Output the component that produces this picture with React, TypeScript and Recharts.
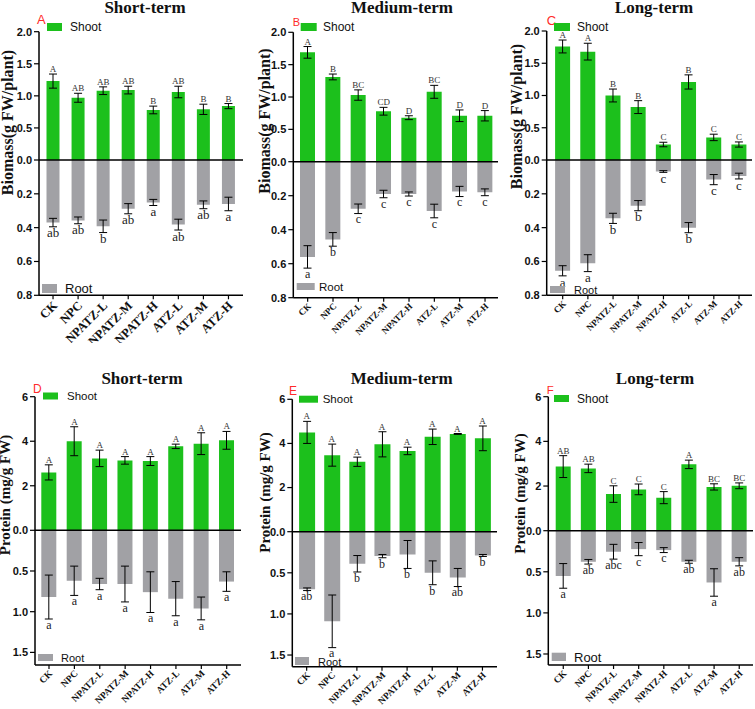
import React from "react";
import { ComposedChart, Bar, Line, XAxis, YAxis, ErrorBar, ReferenceLine } from "recharts";

const categories = ["CK", "NPC", "NPATZ-L", "NPATZ-M", "NPATZ-H", "ATZ-L", "ATZ-M", "ATZ-H"];

// A - biomass, short-term
const bioShortShoot = [1.23, 0.97, 1.08, 1.09, 0.78, 1.06, 0.79, 0.84];
const bioShortShootErr = [0.11, 0.07, 0.06, 0.06, 0.06, 0.09, 0.08, 0.04];
const bioShortShootSig = ["A", "AB", "AB", "AB", "B", "AB", "B", "B"];
const bioShortRoot = [0.37, 0.357, 0.392, 0.288, 0.251, 0.382, 0.265, 0.26];
const bioShortRootErr = [0.025, 0.02, 0.037, 0.03, 0.018, 0.032, 0.023, 0.04];
const bioShortRootSig = ["ab", "ab", "b", "ab", "a", "ab", "ab", "a"];

// B - biomass, medium-term
const bioMedShoot = [1.69, 1.31, 1.03, 0.78, 0.68, 1.08, 0.71, 0.71];
const bioMedShootErr = [0.09, 0.045, 0.08, 0.06, 0.03, 0.1, 0.09, 0.08];
const bioMedShootSig = ["A", "B", "BC", "CD", "D", "BC", "D", "D"];
const bioMedRoot = [0.56, 0.457, 0.277, 0.19, 0.19, 0.29, 0.175, 0.18];
const bioMedRootErr = [0.066, 0.04, 0.028, 0.022, 0.012, 0.04, 0.03, 0.02];
const bioMedRootSig = ["a", "b", "c", "c", "c", "c", "c", "c"];

// C - biomass, long-term
const bioLongShoot = [1.76, 1.68, 1.0, 0.82, 0.24, 1.21, 0.35, 0.24];
const bioLongShootErr = [0.1, 0.13, 0.1, 0.1, 0.035, 0.11, 0.05, 0.04];
const bioLongShootSig = ["A", "A", "B", "B", "C", "B", "C", "C"];
const bioLongRoot = [0.655, 0.61, 0.345, 0.27, 0.068, 0.4, 0.116, 0.095];
const bioLongRootErr = [0.03, 0.05, 0.03, 0.03, 0.005, 0.03, 0.03, 0.017];
const bioLongRootSig = ["a", "a", "b", "b", "c", "b", "c", "c"];

// D - protein, short-term
const protShortShoot = [2.6, 4.0, 3.23, 3.14, 3.11, 3.77, 3.89, 4.04];
const protShortShootErr = [0.34, 0.65, 0.37, 0.17, 0.2, 0.1, 0.49, 0.4];
const protShortShootSig = ["A", "A", "A", "A", "A", "A", "A", "A"];
const protShortRoot = [0.82, 0.62, 0.66, 0.66, 0.76, 0.84, 0.96, 0.63];
const protShortRootErr = [0.27, 0.18, 0.07, 0.22, 0.25, 0.21, 0.14, 0.12];
const protShortRootSig = ["a", "a", "a", "a", "a", "a", "a", "a"];

// E - protein, medium-term
const protMedShoot = [4.5, 3.47, 3.17, 3.96, 3.66, 4.3, 4.43, 4.23];
const protMedShootErr = [0.5, 0.5, 0.21, 0.57, 0.17, 0.35, 0.02, 0.56];
const protMedShootSig = ["A", "A", "A", "A", "A", "A", "A", "A"];
const protMedRoot = [0.7, 1.09, 0.39, 0.297, 0.277, 0.5, 0.557, 0.289];
const protMedRootErr = [0.016, 0.32, 0.1, 0.02, 0.17, 0.145, 0.11, 0.012];
const protMedRootSig = ["ab", "a", "b", "b", "b", "b", "ab", "b"];

// F - protein, long-term
const protLongShoot = [2.87, 2.79, 1.64, 1.85, 1.48, 2.97, 1.96, 2.01];
const protLongShootErr = [0.49, 0.19, 0.37, 0.24, 0.27, 0.19, 0.14, 0.13];
const protLongShootSig = ["AB", "AB", "C", "C", "C", "A", "BC", "BC"];
const protLongRoot = [0.55, 0.378, 0.256, 0.224, 0.236, 0.378, 0.63, 0.378];
const protLongRootErr = [0.15, 0.028, 0.09, 0.08, 0.03, 0.018, 0.167, 0.05];
const protLongRootSig = ["a", "ab", "abc", "c", "c", "ab", "a", "ab"];

const bioShootTicks = [0, 0.5, 1.0, 1.5, 2.0];
const bioRootTicks = [0.2, 0.4, 0.6, 0.8];
const protShootTicks = [0, 2, 4, 6];
const protRootTicks = [0.5, 1.0, 1.5];

const GREEN = "#1cc01c";
const GRAY = "#a1a1a5";
const SERIF = "'Liberation Serif', 'Times New Roman', serif";
const SANS = "'Liberation Sans', Arial, sans-serif";

type PanelCfg = {
  left: number; top: number; width: number; height: number;
  axisX: number; yTop: number; yZero: number; yBot: number; xRight: number;
  padL: number; padR: number; barSize: number; xFont: number; rootFont: number;
  topMax: number; botMax: number; shootTicks: number[]; rootTicks: number[]; protein: boolean;
  shoot: number[]; shootErr: number[]; shootSig: string[];
  root: number[]; rootErr: number[]; rootSig: string[];
};

function XTick(props: any) {
  const { x, y, payload, fontSize, dx, dy } = props;
  return (
    <g transform={`translate(${x + dx},${y + dy})`}>
      <text textAnchor="end" transform="rotate(-45)" fontFamily={SERIF} fontWeight="bold" fontSize={fontSize} fill="#111">
        {payload.value}
      </text>
    </g>
  );
}

function Panel(p: PanelCfg) {
  // root values share the axis with shoot values; s converts root units to shoot units
  const topPx = (p.yZero - p.yTop) / p.topMax;
  const botPx = (p.yBot - p.yZero) / p.botMax;
  const s = botPx / topPx;
  const data = categories.map((name, i) => ({
    name,
    shoot: p.shoot[i],
    shootErr: p.shootErr[i],
    shootTop: p.shoot[i] + p.shootErr[i],
    shootSig: p.shootSig[i],
    root: -p.root[i] * s,
    rootErr: p.rootErr[i] * s,
    rootBot: -(p.root[i] + p.rootErr[i]) * s,
    rootSig: p.rootSig[i],
  }));
  const ticks = [...p.rootTicks.map((v) => -v * s).reverse(), ...p.shootTicks];
  const fmt = (v: number) => {
    if (v < -1e-9) return (-v / s).toFixed(1);
    if (Math.abs(v) < 1e-9) return "0.0";
    return p.protein ? String(v) : v.toFixed(1);
  };
  const big = p.xFont > 11;
  return (
    <div style={{ position: "absolute", left: p.left, top: p.top, width: p.width, height: p.height, overflow: "hidden" }}>
      <ComposedChart
        width={p.width}
        height={p.height}
        data={data}
        barGap={-p.barSize}
        margin={{ top: p.yTop - p.top, right: p.left + p.width - p.xRight, bottom: 0, left: 0 }}
      >
        <XAxis
          dataKey="name"
          interval={0}
          height={p.top + p.height - p.yBot}
          padding={{ left: p.padL, right: p.padR }}
          axisLine={{ stroke: "#000", strokeWidth: 1.5 }}
          tickLine={{ stroke: "#000", strokeWidth: 1.2 }}
          tickSize={4}
          tickMargin={0}
          tick={<XTick fontSize={p.xFont} dx={big ? 5 : 4} dy={big ? 7 : 5} />}
        />
        <YAxis
          type="number"
          domain={[-p.botMax * s, p.topMax]}
          allowDataOverflow
          ticks={ticks}
          interval={0}
          width={p.axisX - p.left}
          tickFormatter={fmt}
          axisLine={{ stroke: "#000", strokeWidth: 1.5 }}
          tickLine={{ stroke: "#000", strokeWidth: 1.2 }}
          tickSize={5}
          tickMargin={2}
          tick={{ fontFamily: SANS, fontWeight: "bold", fontSize: 11, fill: "#111" }}
        />
        <Bar dataKey="shoot" fill={GREEN} barSize={p.barSize} isAnimationActive={false}>
          <ErrorBar dataKey="shootErr" direction="y" width={4} stroke="#000" strokeWidth={1} />
        </Bar>
        <Bar dataKey="root" fill={GRAY} barSize={p.barSize} isAnimationActive={false}>
          <ErrorBar dataKey="rootErr" direction="y" width={4} stroke="#000" strokeWidth={1} />
        </Bar>
        <ReferenceLine y={0} stroke="#000" strokeWidth={1.5} />
        <Line
          dataKey="shootTop"
          stroke="none"
          isAnimationActive={false}
          activeDot={false}
          dot={(d: any) => (
            <text key={`s${d.index}`} x={d.cx} y={d.cy - 2} textAnchor="middle" fontFamily={SERIF} fontSize={9} fill="#333">
              {d.payload.shootSig}
            </text>
          )}
        />
        <Line
          dataKey="rootBot"
          stroke="none"
          isAnimationActive={false}
          activeDot={false}
          dot={(d: any) => (
            <text key={`r${d.index}`} x={d.cx} y={d.cy + p.rootFont * 0.82} textAnchor="middle" fontFamily={SERIF} fontSize={p.rootFont} fill="#222">
              {d.payload.rootSig}
            </text>
          )}
        />
      </ComposedChart>
    </div>
  );
}

const panels: PanelCfg[] = [
  {
    left: 0, top: 0, width: 250, height: 343, axisX: 39, yTop: 31.7, yZero: 160, yBot: 295.3, xRight: 243,
    padL: 1.5, padR: 2, barSize: 13, xFont: 12.5, rootFont: 13, topMax: 2, botMax: 0.8,
    shootTicks: bioShootTicks, rootTicks: bioRootTicks, protein: false,
    shoot: bioShortShoot, shootErr: bioShortShootErr, shootSig: bioShortShootSig,
    root: bioShortRoot, rootErr: bioShortRootErr, rootSig: bioShortRootSig,
  },
  {
    left: 250, top: 0, width: 250, height: 350, axisX: 293.3, yTop: 32.3, yZero: 161.7, yBot: 297.7, xRight: 498,
    padL: 1.7, padR: 0.3, barSize: 15, xFont: 9, rootFont: 12, topMax: 2, botMax: 0.8,
    shootTicks: bioShootTicks, rootTicks: bioRootTicks, protein: false,
    shoot: bioMedShoot, shootErr: bioMedShootErr, shootSig: bioMedShootSig,
    root: bioMedRoot, rootErr: bioMedRootErr, rootSig: bioMedRootSig,
  },
  {
    left: 500, top: 0, width: 255, height: 350, axisX: 546.7, yTop: 31, yZero: 160, yBot: 295.3, xRight: 752,
    padL: 3.4, padR: 0.4, barSize: 15, xFont: 9, rootFont: 13, topMax: 2, botMax: 0.8,
    shootTicks: bioShootTicks, rootTicks: bioRootTicks, protein: false,
    shoot: bioLongShoot, shootErr: bioLongShootErr, shootSig: bioLongShootSig,
    root: bioLongRoot, rootErr: bioLongRootErr, rootSig: bioLongRootSig,
  },
  {
    left: 0, top: 355, width: 250, height: 354, axisX: 35, yTop: 396.7, yZero: 530.3, yBot: 665, xRight: 241,
    padL: 1.3, padR: 1.6, barSize: 15, xFont: 9.5, rootFont: 12, topMax: 6, botMax: 1.655,
    shootTicks: protShootTicks, rootTicks: protRootTicks, protein: true,
    shoot: protShortShoot, shootErr: protShortShootErr, shootSig: protShortShootSig,
    root: protShortRoot, rootErr: protShortRootErr, rootSig: protShortRootSig,
  },
  {
    left: 250, top: 355, width: 250, height: 354, axisX: 292.3, yTop: 399.3, yZero: 531.7, yBot: 666.7, xRight: 497,
    padL: 1.8, padR: 2, barSize: 16, xFont: 9.5, rootFont: 12, topMax: 6, botMax: 1.642,
    shootTicks: protShootTicks, rootTicks: protRootTicks, protein: true,
    shoot: protMedShoot, shootErr: protMedShootErr, shootSig: protMedShootSig,
    root: protMedRoot, rootErr: protMedRootErr, rootSig: protMedRootSig,
  },
  {
    left: 500, top: 355, width: 255, height: 354, axisX: 548.3, yTop: 396.7, yZero: 530.7, yBot: 665, xRight: 753,
    padL: 2.4, padR: 1.2, barSize: 15, xFont: 9.5, rootFont: 12, topMax: 6, botMax: 1.634,
    shootTicks: protShootTicks, rootTicks: protRootTicks, protein: true,
    shoot: protLongShoot, shootErr: protLongShootErr, shootSig: protLongShootSig,
    root: protLongRoot, rootErr: protLongRootErr, rootSig: protLongRootSig,
  },
];

// titles, panel letters, axis titles and legends
const titles = [
  { text: "Short-term", x: 145, y: 13 },
  { text: "Medium-term", x: 402, y: 13 },
  { text: "Long-term", x: 654, y: 13 },
  { text: "Short-term", x: 142, y: 384 },
  { text: "Medium-term", x: 401.7, y: 384 },
  { text: "Long-term", x: 655, y: 384 },
];
const letters = [
  { text: "A", x: 37, y: 24, size: 13 },
  { text: "B", x: 292.7, y: 26, size: 11 },
  { text: "C", x: 546.7, y: 25, size: 13 },
  { text: "D", x: 33, y: 393, size: 12 },
  { text: "E", x: 289, y: 395, size: 12 },
  { text: "F", x: 546.7, y: 394, size: 11.5 },
];
const yTitles = [
  { text: "Biomass(g FW/plant)", x: 13, y: 122.5, size: 16 },
  { text: "Biomass(g FW/plant)", x: 270, y: 121, size: 16 },
  { text: "Biomass(g FW/plant)", x: 522, y: 116.5, size: 16 },
  { text: "Protein (mg/g FW)", x: 10, y: 495, size: 15 },
  { text: "Protein (mg/g FW)", x: 270, y: 492.5, size: 15 },
  { text: "Protein (mg/g FW)", x: 525, y: 493.5, size: 15 },
];
const legends = [
  { text: "Shoot", color: GREEN, bx: 47, by: 23, bw: 15, bh: 8, tx: 70, ty: 31, size: 12 },
  { text: "Root", color: GRAY, bx: 42, by: 284, bw: 15, bh: 9, tx: 65, ty: 292.5, size: 13 },
  { text: "Shoot", color: GREEN, bx: 300.7, by: 23, bw: 16, bh: 8, tx: 323, ty: 31, size: 12 },
  { text: "Root", color: GRAY, bx: 296.7, by: 283, bw: 18, bh: 7, tx: 319, ty: 291, size: 11.5 },
  { text: "Shoot", color: GREEN, bx: 554, by: 23, bw: 16, bh: 8, tx: 577, ty: 31, size: 12 },
  { text: "Root", color: GRAY, bx: 550, by: 286, bw: 15, bh: 7, tx: 574, ty: 294, size: 11 },
  { text: "Shoot", color: GREEN, bx: 43, by: 392.5, bw: 15, bh: 7, tx: 67, ty: 400, size: 11.5 },
  { text: "Root", color: GRAY, bx: 38, by: 654, bw: 15, bh: 7, tx: 61, ty: 661.5, size: 11 },
  { text: "Shoot", color: GREEN, bx: 299, by: 395.7, bw: 19, bh: 7, tx: 322.7, ty: 403, size: 11.5 },
  { text: "Root", color: GRAY, bx: 295, by: 657, bw: 14, bh: 8, tx: 318, ty: 665.5, size: 11 },
  { text: "Shoot", color: GREEN, bx: 554, by: 395, bw: 15, bh: 7, tx: 577, ty: 402.5, size: 12 },
  { text: "Root", color: GRAY, bx: 551.7, by: 652.7, bw: 14.3, bh: 8.3, tx: 574, ty: 661.5, size: 13 },
];

export default function App() {
  return (
    <div style={{ position: "absolute", left: 0, top: 0, width: 755, height: 709, background: "#fff", overflow: "hidden" }}>
      {panels.map((p, i) => (
        <Panel key={i} {...p} />
      ))}
      <svg width={755} height={709} style={{ position: "absolute", left: 0, top: 0, pointerEvents: "none" }}>
        {titles.map((t, i) => (
          <text key={i} x={t.x} y={t.y} textAnchor="middle" fontFamily={SERIF} fontWeight="bold" fontSize={17} fill="#111">
            {t.text}
          </text>
        ))}
        {letters.map((t, i) => (
          <text key={i} x={t.x} y={t.y} fontFamily={SANS} fontSize={t.size} fill="#ff2a2a">
            {t.text}
          </text>
        ))}
        {yTitles.map((t, i) => (
          <text key={i} x={t.x} y={t.y} transform={`rotate(-90 ${t.x} ${t.y})`} textAnchor="middle" fontFamily={SERIF} fontWeight="bold" fontSize={t.size} fill="#111">
            {t.text}
          </text>
        ))}
        {legends.map((l, i) => (
          <g key={i}>
            <rect x={l.bx} y={l.by} width={l.bw} height={l.bh} fill={l.color} />
            <text x={l.tx} y={l.ty} fontFamily={SANS} fontSize={l.size} fill="#111">
              {l.text}
            </text>
          </g>
        ))}
      </svg>
    </div>
  );
}
